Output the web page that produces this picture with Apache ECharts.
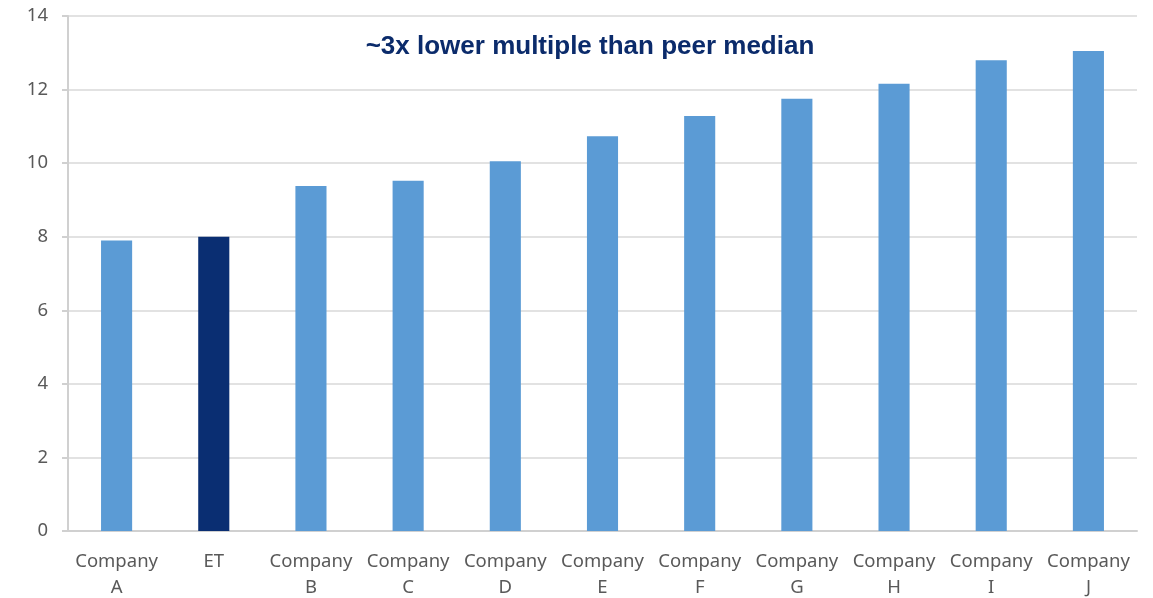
<!DOCTYPE html>
<html>
<head>
<meta charset="utf-8">
<script src="https://cdn.jsdelivr.net/npm/echarts@6/dist/echarts.min.js"></script>
<style>html,body{margin:0;padding:0;background:#fff}#c{width:1153px;height:598px}</style>
</head>
<body>
<div id="c"></div>
<script>
const categories = ['Company\nA','ET','Company\nB','Company\nC','Company\nD','Company\nE','Company\nF','Company\nG','Company\nH','Company\nI','Company\nJ'];
const values = [7.9, 8.0, 9.38, 9.52, 10.05, 10.73, 11.28, 11.75, 12.16, 12.8, 13.05];
const highlight = 'ET';
const titleText = '~3x lower multiple than peer median';

const chart = echarts.init(document.getElementById('c'));
chart.setOption({
  animation: false,
  title: {
    text: titleText,
    left: 585, top: 29, textAlign: 'center',
    textStyle: {fontFamily: 'Liberation Sans', fontWeight: 'bold', fontSize: 26, color: '#0b2b6b'}
  },
  grid: {left: 68, right: 16, top: 16, bottom: 67, containLabel: false, outerBoundsMode: 'none'},
  xAxis: {
    type: 'category', data: categories,
    axisLine: {show: true, lineStyle: {color: '#d0d0d0', width: 2}},
    axisTick: {show: false},
    axisLabel: {color: '#595959', fontFamily: 'Noto Sans', fontSize: 18.5, lineHeight: 26, margin: 18, interval: 0}
  },
  yAxis: {
    type: 'value', min: 0, max: 14, interval: 2,
    axisLine: {show: true, lineStyle: {color: '#d0d0d0', width: 2}},
    axisTick: {show: true, length: 6, lineStyle: {color: '#d0d0d0', width: 2}},
    axisLabel: {color: '#595959', fontFamily: 'Noto Sans', fontSize: 18.5, margin: 20},
    splitLine: {lineStyle: {color: '#d9d9d9', width: 1.5}}
  },
  series: [{
    type: 'bar', barWidth: '32%',
    data: values.map((v, i) => ({
      value: v,
      itemStyle: {color: categories[i] === highlight ? '#0a2e72' : '#5b9bd5'}
    }))
  }]
});
</script>
</body>
</html>
